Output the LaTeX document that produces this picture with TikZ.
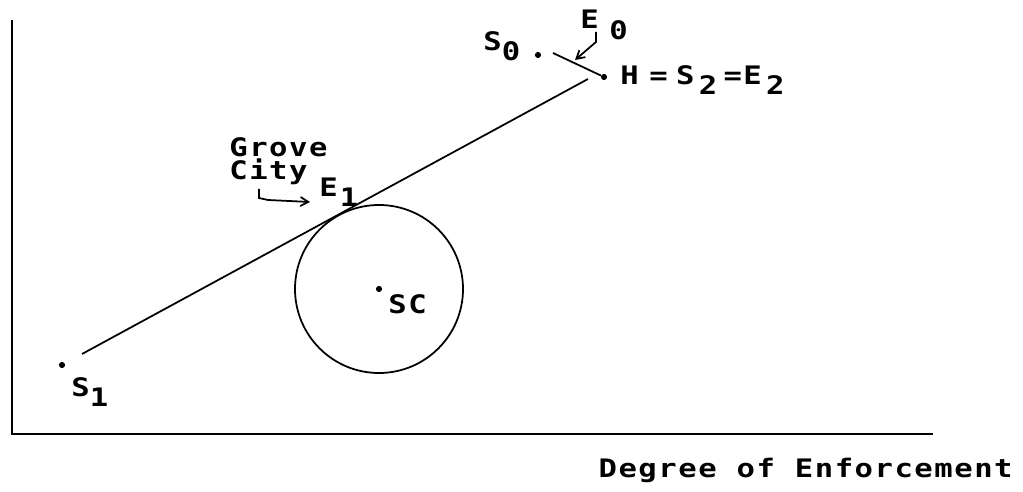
\documentclass[tikz,border=0pt]{standalone}
\usepackage{fontspec}
\usepackage{graphicx}
\newfontfamily\pixfont[LetterSpace=5]{DejaVu Sans Mono}
\usetikzlibrary{positioning, arrows}
\tikzset{>=angle 60,
  every node/.style={font=\pixfont\bfseries\fontsize{14.5}{13}\selectfont, inner sep=0pt},
  dot/.style={circle, fill, minimum size=3.5pt},
  ln/.style={line width=1pt},
}
\newcommand{\lo}[1]{\raisebox{-.75ex}{#1}}
\newcommand{\px}[1]{\scalebox{1.2}[1]{#1}}

\begin{document}
\begin{tikzpicture}[x=0.02cm, y=-0.02cm]
	\useasboundingbox (0,0) rectangle (1023,492);
	% axes
	\coordinate (top) at (12,20);
	\coordinate (orig) at (12,434);
	\coordinate (right) at (933,434);
	\draw[ln] (top) -- (orig) -- (right);
	\node[anchor=east] (xlabel) at (1013,470) {\px{Degree of Enforcement}};
	% points
	\node[dot] (s1) at (62,365) {};
	\node[dot] (s0) at (538,55) {};
	\node[dot] (h) at (604,77) {};
	\node[dot] (sc) at (379,289) {};
	\node[anchor=west] (s1lab) at (71,392) {\px{S\lo{1}}};
	\node[anchor=west] (s0lab) at (483,46) {\px{S\lo{0}}};
	\node[anchor=west] (hlab) at (620,80) {\px{H\hspace{5pt}=\hspace{4pt}S\hspace{2pt}\lo{2}\hspace{3pt}=E\hspace{2pt}\lo{2}}};
	\node[anchor=west] (sclab) at (388,304) {\px{SC}};
	\node[anchor=west] (e0lab) at (580,25) {\px{E\hspace{5pt}\lo{0}}};
	\node[anchor=west] (e1lab) at (319,192) {\px{E\hspace{1pt}\lo{1}}};
	\node[anchor=west, align=left] (grove) at (229,161) {\px{Grove}\\\px{City}};
	% circle and lines
	\draw[ln] (sc) circle (84);
	\coordinate (a) at (82,354);
	\coordinate (b) at (588,79);
	\draw[ln] (a) -- (b);
	\coordinate (c) at (553,53);
	\draw[ln] (c) -- (h);
	% arrows
	\coordinate (e0a) at (596,32);
	\coordinate (e0b) at (596,42);
	\coordinate (e0c) at (575,60);
	\draw[ln,->] (e0a) -- (e0b) -- (e0c);
	\coordinate (ga) at (259,189);
	\coordinate (gb) at (259,198);
	\coordinate (gc) at (268,200);
	\coordinate (gd) at (310,202);
	\draw[ln,->] (ga) -- (gb) -- (gc) -- (gd);
\end{tikzpicture}
\end{document}
